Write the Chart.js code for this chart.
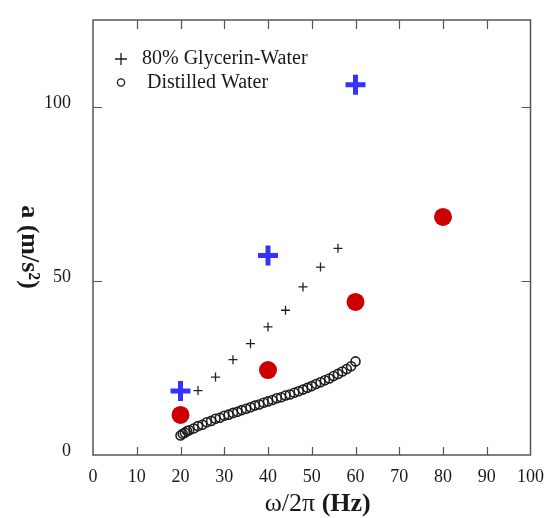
<!DOCTYPE html>
<html>
<head>
<meta charset="utf-8">
<script src="https://cdn.jsdelivr.net/npm/chart.js@4.4.1/dist/chart.umd.min.js"></script>
<style>
  html, body { margin: 0; padding: 0; background: #fff; }
  #wrap { width: 547px; height: 518px; position: relative; }
</style>
</head>
<body>
<div id="wrap"><canvas id="accelChart"></canvas></div>
<script>
// axis ticks
const xTicks = [0, 10, 20, 30, 40, 50, 60, 70, 80, 90, 100];
const yTicks = [0, 50, 100];

// 80% glycerin-water (small black crosses)
const glycerinFreq = [24, 28, 32, 36, 40, 44, 48, 52, 56];
const glycerinAccel = [18.5, 22.4, 27.4, 32.0, 36.8, 41.6, 48.3, 54.0, 59.4];

// distilled water (open circles)
const waterFreq = [20, 20.5, 21, 21.5, 22, 23, 24, 25, 26, 27, 28, 29, 30, 31, 32, 33, 34, 35, 36, 37, 38, 39, 40,
  41, 42, 43, 44, 45, 46, 47, 48, 49, 50, 51, 52, 53, 54, 55, 56, 57, 58, 59, 60];
const waterAccel = [5.6, 6.1, 6.4, 6.9, 7.1, 7.6, 8.3, 8.7, 9.4, 9.8, 10.4, 10.7, 11.3, 11.6, 12.1, 12.4, 12.9,
  13.3, 13.7, 14.2, 14.5, 15.0, 15.4, 15.8, 16.3, 16.6, 17.1, 17.4, 17.9, 18.3, 18.8, 19.3, 19.8,
  20.4, 20.9, 21.5, 22.0, 22.7, 23.3, 24.0, 24.7, 25.5, 26.9];

// red dots
const redFreq = [20, 40, 60, 80];
const redAccel = [11.5, 24.4, 44.0, 68.4];

// big blue crosses
const blueFreq = [20, 40, 60];
const blueAccel = [18.4, 57.3, 106.4];

function pts(xs, ys) {
  return xs.map((x, i) => ({ x: x, y: ys[i] }));
}

const SERIF = "'Liberation Serif', 'Times New Roman', serif";
const INK = "#1a1a1a";
const AXIS = "#555";

// frame, inward ticks, axis titles and the legend
const framePlugin = {
  id: "frame",
  afterDraw(chart) {
    const ctx = chart.ctx;
    const a = chart.chartArea;
    const xs = chart.scales.x, ys = chart.scales.y;
    const tl = 9;
    ctx.save();
    ctx.strokeStyle = AXIS;
    ctx.lineWidth = 1.5;
    ctx.strokeRect(a.left, a.top, a.right - a.left, a.bottom - a.top);
    ctx.lineWidth = 1.2;
    ctx.beginPath();
    xTicks.forEach(v => {
      const px = Math.round(xs.getPixelForValue(v)) + 0.5;
      if (v === xs.min || v === xs.max) return;
      ctx.moveTo(px, a.bottom); ctx.lineTo(px, a.bottom - tl + 1);
      ctx.moveTo(px, a.top); ctx.lineTo(px, a.top + tl);
    });
    yTicks.forEach(v => {
      if (v === ys.min) return;
      const py = Math.round(ys.getPixelForValue(v)) + 0.5;
      ctx.moveTo(a.left, py); ctx.lineTo(a.left + tl, py);
      ctx.moveTo(a.right, py); ctx.lineTo(a.right - tl, py);
    });
    ctx.stroke();

    // x title: normal omega part, bold unit
    ctx.fillStyle = INK;
    ctx.textBaseline = "middle";
    const p1 = "\u03c9/2\u03c0 ", p2 = "(Hz)";
    ctx.font = "26px " + SERIF;
    const w1 = ctx.measureText(p1).width;
    ctx.font = "bold 26px " + SERIF;
    const w2 = ctx.measureText(p2).width;
    const cx = (a.left + a.right) / 2 + 6;
    let sx = cx - (w1 + w2) / 2;
    ctx.textAlign = "left";
    ctx.font = "26px " + SERIF;
    ctx.fillText(p1, sx, 504);
    ctx.font = "bold 26px " + SERIF;
    ctx.fillText(p2, sx + w1, 504);

    // y title, reading downward
    ctx.save();
    ctx.translate(29, 247);
    ctx.rotate(Math.PI / 2);
    ctx.textAlign = "center";
    ctx.font = "bold 26px " + SERIF;
    ctx.fillText("a (m/s\u00b2)", 0, 0);
    ctx.restore();

    // legend
    ctx.font = "20px " + SERIF;
    ctx.textAlign = "left";
    ctx.strokeStyle = INK;
    ctx.lineWidth = 1.3;
    ctx.beginPath();
    ctx.moveTo(115, 59); ctx.lineTo(127, 59);
    ctx.moveTo(121, 53); ctx.lineTo(121, 65);
    ctx.stroke();
    ctx.beginPath();
    ctx.arc(121, 82.5, 3.6, 0, Math.PI * 2);
    ctx.stroke();
    ctx.fillText("80% Glycerin-Water", 142, 59);
    ctx.fillText("Distilled Water", 147, 82.5);
    ctx.restore();
  }
};

new Chart(document.getElementById("accelChart"), {
  type: "scatter",
  data: {
    datasets: [
      {
        label: "Distilled Water",
        data: pts(waterFreq, waterAccel),
        pointStyle: "circle",
        pointRadius: 4.5,
        borderWidth: 1.6,
        borderColor: "#1e1e1e",
        backgroundColor: "rgba(255,255,255,0)"
      },
      {
        label: "80% Glycerin-Water",
        data: pts(glycerinFreq, glycerinAccel),
        pointStyle: "cross",
        pointRadius: 4.5,
        borderWidth: 1.3,
        borderColor: "#222"
      },
      {
        label: "red",
        data: pts(redFreq, redAccel),
        pointStyle: "circle",
        pointRadius: 9,
        borderWidth: 0,
        backgroundColor: "#cc0000"
      },
      {
        label: "blue",
        data: pts(blueFreq, blueAccel),
        pointStyle: "cross",
        pointRadius: 10,
        borderWidth: 5,
        borderColor: "#3333ff"
      }
    ]
  },
  options: {
    responsive: true,
    maintainAspectRatio: false,
    animation: false,
    layout: { padding: { top: 20, right: 11, left: 0, bottom: 0 } },
    plugins: { legend: { display: false }, tooltip: { enabled: false } },
    scales: {
      x: {
        type: "linear",
        min: 0,
        max: 100,
        afterBuildTicks: s => { s.ticks = xTicks.map(v => ({ value: v })); },
        afterFit: s => { s.height = 63; },
        grid: { display: false },
        border: { display: false },
        ticks: { color: INK, font: { family: SERIF, size: 18 }, padding: 3, maxRotation: 0 }
      },
      y: {
        type: "linear",
        min: 0,
        max: 125,
        afterBuildTicks: s => { s.ticks = yTicks.map(v => ({ value: v })); },
        afterFit: s => { s.width = 93; s.paddingTop = 0; s.paddingBottom = 0; },
        grid: { display: false },
        border: { display: false },
        ticks: { color: INK, font: { family: SERIF, size: 18 }, padding: 14, labelOffset: -4 }
      }
    }
  },
  plugins: [framePlugin]
});
</script>
</body>
</html>
